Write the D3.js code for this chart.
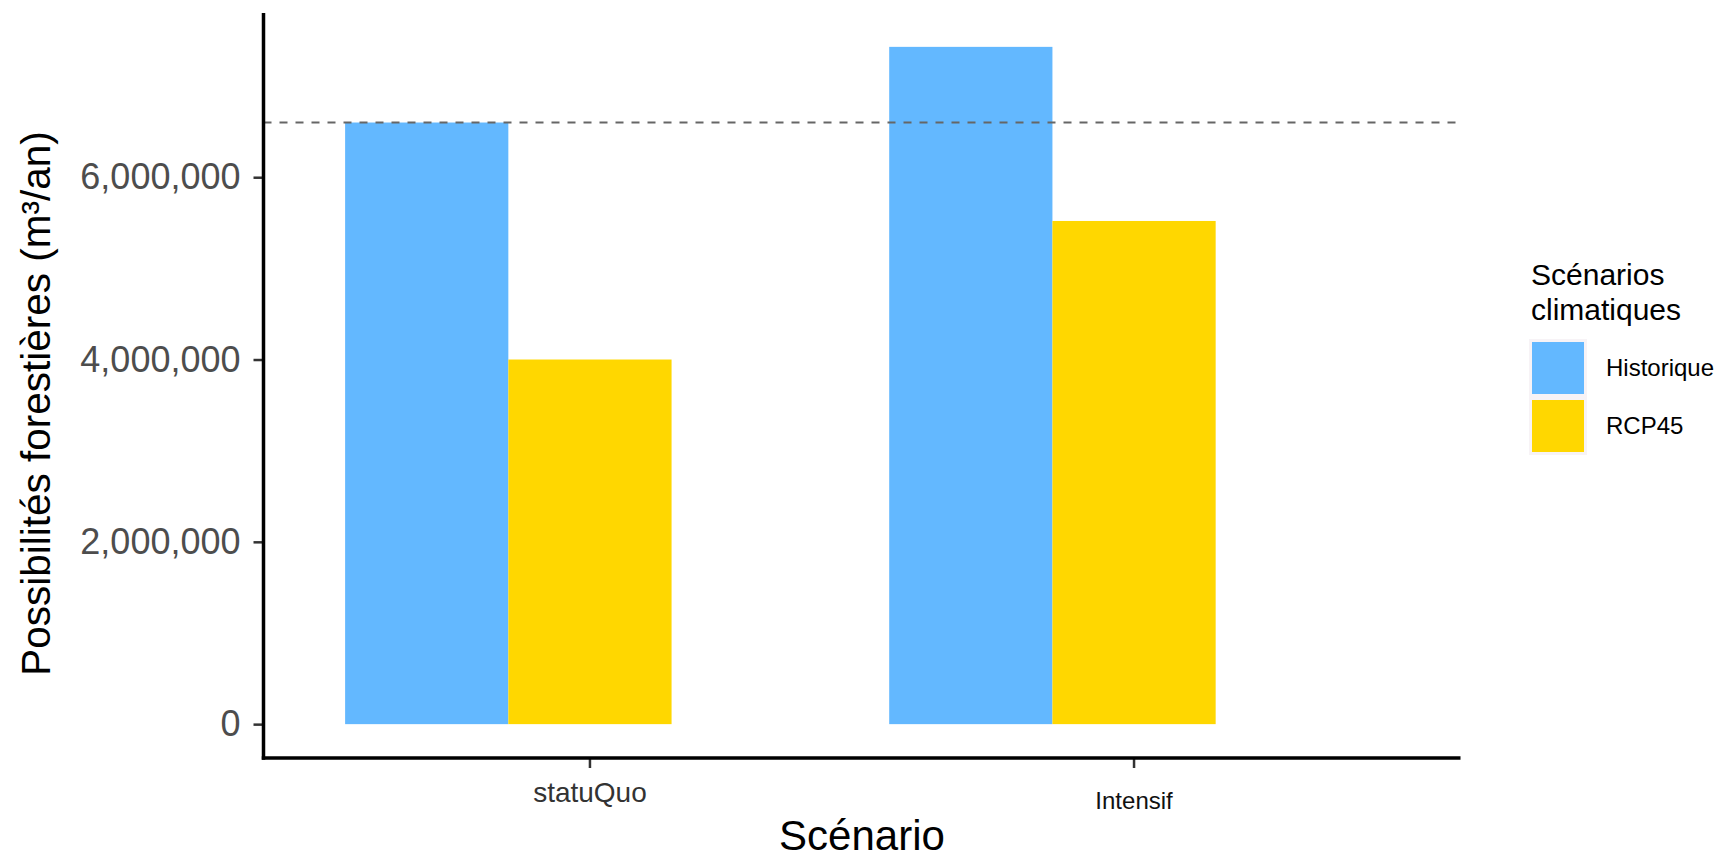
<!DOCTYPE html>
<html>
<head>
<meta charset="utf-8">
<script src="https://cdn.jsdelivr.net/npm/d3@7"></script>
<style>
  html, body { margin: 0; padding: 0; background: #fff; }
  svg { display: block; font-family: "Liberation Sans", Arial, sans-serif; }
</style>
</head>
<body>
<svg id="chart" width="1722" height="859"></svg>
<script>
// chart values
const scenarios = ["statuQuo", "Intensif"];
const climates = ["Historique", "RCP45"];
// bars are dodged over three slots, the third one stays empty
const dodgeSlots = ["Historique", "RCP45", "RCP85"];
const historique = [6600000, 7430000];
const rcp45 = [4000000, 5520000];
const referenceLine = 6600000;
const yTicks = [0, 2000000, 4000000, 6000000];
const climateColors = ["#63B8FF", "#FFD700"];

const seriesValues = { Historique: historique, RCP45: rcp45 };

const svg = d3.select("#chart");
const panel = { left: 263.5, right: 1460.5, top: 13, bottom: 758 };

// y scale with ggplot style 5% expansion
const yMax = d3.max([...historique, ...rcp45]);
const pad = yMax * 0.05;
const y = d3.scaleLinear()
  .domain([-pad, yMax + pad])
  .range([panel.bottom, panel.top]);

const x0 = d3.scaleBand()
  .domain(scenarios)
  .range([panel.left, panel.right])
  .paddingInner(0.1)
  .paddingOuter(0.15);

const x1 = d3.scaleBand()
  .domain(dodgeSlots)
  .range([0, x0.bandwidth()]);

const color = d3.scaleOrdinal().domain(climates).range(climateColors);

// bars
const rows = [];
scenarios.forEach((s, i) => {
  climates.forEach(c => rows.push({ scenario: s, climate: c, value: seriesValues[c][i] }));
});

svg.append("g")
  .selectAll("rect")
  .data(rows)
  .join("rect")
  .attr("x", d => x0(d.scenario) + x1(d.climate))
  .attr("width", x1.bandwidth())
  .attr("y", d => y(d.value))
  .attr("height", d => y(0) - y(d.value))
  .attr("fill", d => color(d.climate));

// dashed reference line
svg.append("line")
  .attr("x1", panel.left)
  .attr("x2", panel.right)
  .attr("y1", y(referenceLine))
  .attr("y2", y(referenceLine))
  .attr("stroke", "#666666")
  .attr("stroke-width", 2)
  .attr("stroke-dasharray", "8,8");

// y axis
const yAxis = svg.append("g")
  .attr("transform", `translate(${panel.left},0)`)
  .call(d3.axisLeft(y).tickValues(yTicks).tickFormat(d3.format(",")).tickSize(10).tickPadding(13));
yAxis.select(".domain").remove();
yAxis.selectAll(".tick line").attr("stroke", "#333333").attr("stroke-width", 2.5);
yAxis.selectAll(".tick text")
  .attr("fill", "#4D4D4D")
  .attr("font-size", 36)
  .attr("font-family", "Liberation Sans, Arial, sans-serif");

// x axis
const xAxis = svg.append("g")
  .attr("transform", `translate(0,${panel.bottom})`)
  .call(d3.axisBottom(x0).tickSize(10).tickPadding(14));
xAxis.select(".domain").remove();
xAxis.selectAll(".tick line").attr("stroke", "#333333").attr("stroke-width", 2.5);
// the two category labels are not rendered alike in the original
xAxis.selectAll(".tick text")
  .attr("font-family", "Liberation Sans, Arial, sans-serif")
  .attr("fill", d => d === "Intensif" ? "#111111" : "#333333")
  .attr("font-size", d => d === "Intensif" ? 24 : 28)
  .attr("y", d => d === "Intensif" ? 34 : 24);

// axis lines (drawn over ticks, like theme_classic)
svg.append("line")
  .attr("x1", panel.left).attr("x2", panel.left)
  .attr("y1", panel.top).attr("y2", panel.bottom + 1.75)
  .attr("stroke", "#000").attr("stroke-width", 3.5);
svg.append("line")
  .attr("x1", panel.left - 1.75).attr("x2", panel.right)
  .attr("y1", panel.bottom).attr("y2", panel.bottom)
  .attr("stroke", "#000").attr("stroke-width", 3.5);

// axis titles
svg.append("text")
  .attr("x", (panel.left + panel.right) / 2)
  .attr("y", 850)
  .attr("text-anchor", "middle")
  .attr("font-size", 42)
  .attr("fill", "#000")
  .text("Scénario");

svg.append("text")
  .attr("transform", `translate(50,${(panel.top + panel.bottom) / 2 + 18}) rotate(-90)`)
  .attr("text-anchor", "middle")
  .attr("font-size", 40.5)
  .attr("fill", "#000")
  .text("Possibilités forestières (m³/an)");

// legend
const legend = svg.append("g").attr("transform", "translate(1531,0)");
legend.append("text")
  .attr("x", 0).attr("y", 285)
  .attr("font-size", 30)
  .text("Scénarios");
legend.append("text")
  .attr("x", 0).attr("y", 320)
  .attr("font-size", 30)
  .text("climatiques");

const keySize = 58;
const keys = legend.selectAll("g.key")
  .data(climates)
  .join("g")
  .attr("class", "key")
  .attr("transform", (d, i) => `translate(-2,${339 + i * keySize})`);
keys.append("rect")
  .attr("width", keySize).attr("height", keySize)
  .attr("fill", "#F7F3F6");
keys.append("rect")
  .attr("x", 3).attr("y", 3)
  .attr("width", keySize - 6).attr("height", keySize - 6)
  .attr("fill", d => color(d));
keys.append("text")
  .attr("x", 77)
  .attr("y", keySize / 2)
  .attr("dy", "0.35em")
  .attr("font-size", 24)
  .attr("fill", "#000")
  .text(d => d);
</script>
</body>
</html>
